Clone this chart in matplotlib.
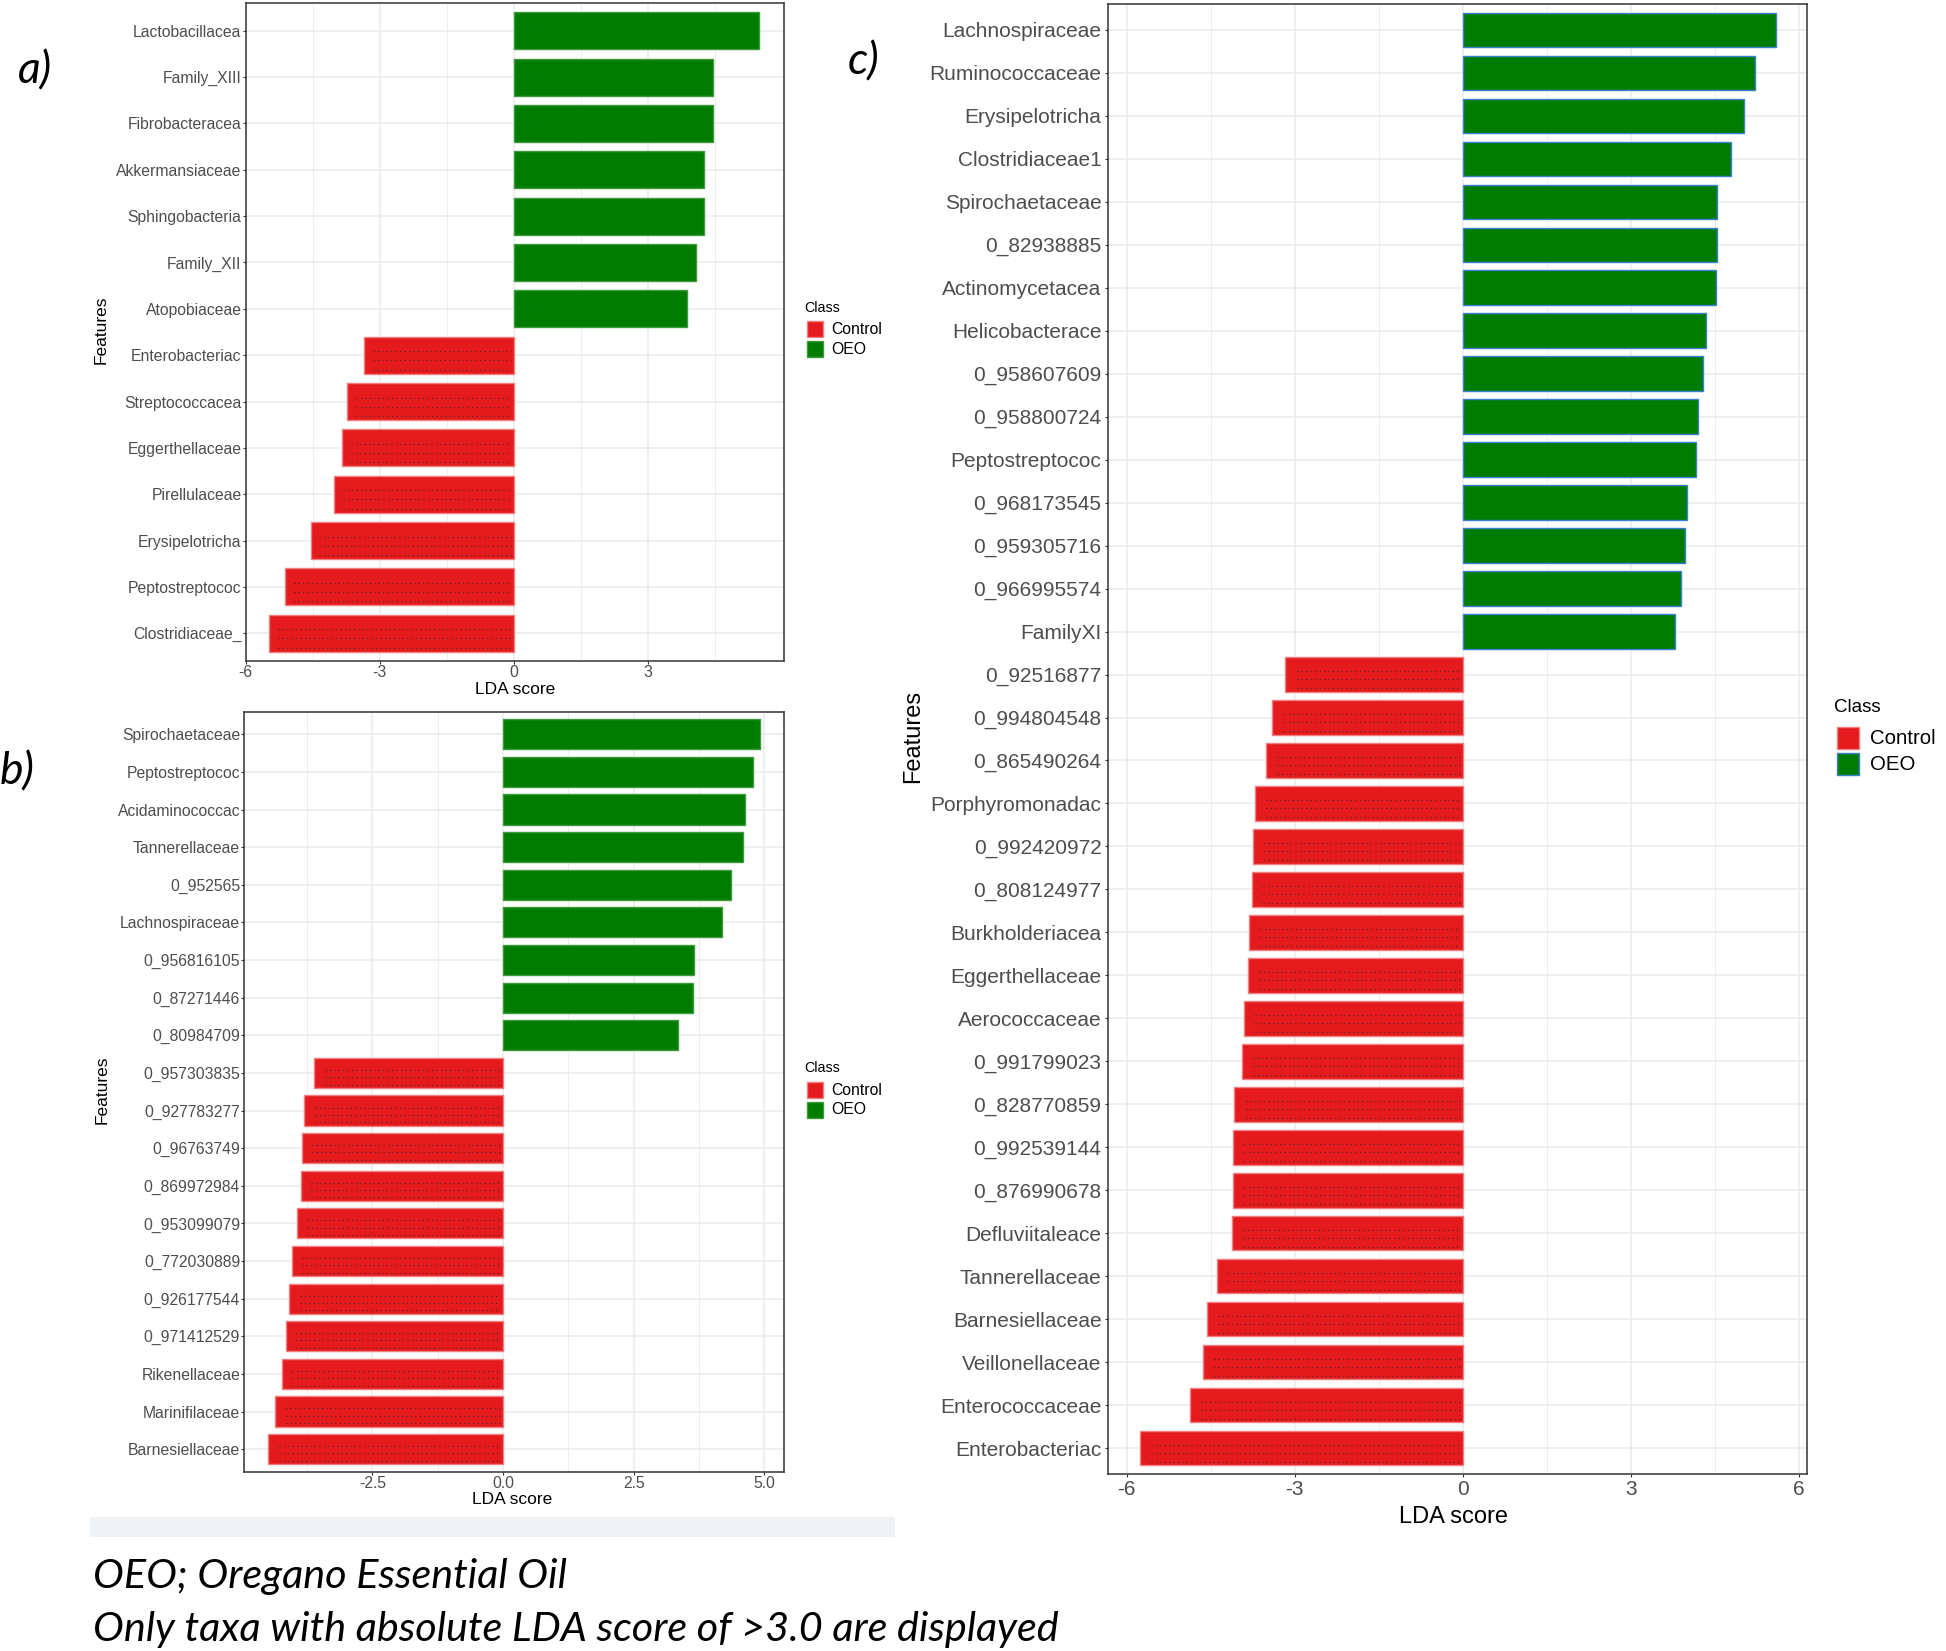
import numpy as np
import matplotlib
matplotlib.use("Agg")
import matplotlib.pyplot as plt
from matplotlib.patches import Rectangle

plt.rcParams['font.family'] = ['Liberation Sans', 'DejaVu Sans']

# LDA scores, listed top to bottom
A_LABELS = ["Lactobacillacea", "Family_XIII", "Fibrobacteracea", "Akkermansiaceae",
            "Sphingobacteria", "Family_XII", "Atopobiaceae", "Enterobacteriac",
            "Streptococcacea", "Eggerthellaceae", "Pirellulaceae", "Erysipelotricha",
            "Peptostreptococ", "Clostridiaceae_"]
A_SCORES = [5.47, 4.46, 4.46, 4.25, 4.25, 4.08, 3.87,
            -3.36, -3.73, -3.85, -4.02, -4.55, -5.12, -5.47]

B_LABELS = ["Spirochaetaceae", "Peptostreptococ", "Acidaminococcac", "Tannerellaceae",
            "0_952565", "Lachnospiraceae", "0_956816105", "0_87271446", "0_80984709",
            "0_957303835", "0_927783277", "0_96763749", "0_869972984", "0_953099079",
            "0_772030889", "0_926177544", "0_971412529", "Rikenellaceae",
            "Marinifilaceae", "Barnesiellaceae"]
B_SCORES = [4.91, 4.78, 4.62, 4.59, 4.36, 4.19, 3.66, 3.63, 3.35,
            -3.61, -3.80, -3.85, -3.87, -3.95, -4.04, -4.09, -4.16, -4.23, -4.36, -4.49]

C_LABELS = ["Lachnospiraceae", "Ruminococcaceae", "Erysipelotricha", "Clostridiaceae1",
            "Spirochaetaceae", "0_82938885", "Actinomycetacea", "Helicobacterace",
            "0_958607609", "0_958800724", "Peptostreptococ", "0_968173545",
            "0_959305716", "0_966995574", "FamilyXI", "0_92516877", "0_994804548",
            "0_865490264", "Porphyromonadac", "0_992420972", "0_808124977",
            "Burkholderiacea", "Eggerthellaceae", "Aerococcaceae", "0_991799023",
            "0_828770859", "0_992539144", "0_876990678", "Defluviitaleace",
            "Tannerellaceae", "Barnesiellaceae", "Veillonellaceae", "Enterococcaceae",
            "Enterobacteriac"]
C_SCORES = [5.59, 5.22, 5.01, 4.79, 4.54, 4.54, 4.51, 4.33, 4.28, 4.20, 4.16, 3.99,
            3.97, 3.90, 3.79, -3.17, -3.40, -3.51, -3.72, -3.75, -3.77, -3.82, -3.84,
            -3.91, -3.94, -4.08, -4.11, -4.11, -4.13, -4.39, -4.57, -4.64, -4.87, -5.77]

CLASSES = ["Control", "OEO"]

GREEN = "#007d00"
RED = "#e41a1c"
RED_EDGE = "#f07f80"
GRID = "#ebebeb"
TICK_TXT = "#4d4d4d"

W, H = 1946, 1651
fig = plt.figure(figsize=(W / 100, H / 100), dpi=100)


def px_axes(x0, y0, x1, y1):
    # pixel box (top-left origin) -> axes
    return fig.add_axes([x0 / W, 1 - y1 / H, (x1 - x0) / W, (y1 - y0) / H])


def draw_panel(ax, labels, scores, xlim, ticks, ticklabels, minor, fs_tick, fs_title,
               green_edge, feat_xy, lda_xy, pad):
    n = len(labels)
    ypos = np.arange(n)[::-1]
    scores = np.array(scores)
    cols = [GREEN if s > 0 else RED for s in scores]
    edges = [green_edge if s > 0 else RED_EDGE for s in scores]
    ax.barh(ypos, scores, height=0.8, color=cols, edgecolor=edges, linewidth=1.0, zorder=3)

    # dotted scan artefacts inside the red bars
    neg = scores < 0
    for off in [0.08, -0.11, -0.31]:
        ax.hlines(ypos[neg] + off, scores[neg] + 0.2, -0.06, colors="#1f2f2f",
                  linewidth=0.8, linestyles=(0, (0.8, 3.2)), zorder=4)

    ax.set_xlim(*xlim)
    ax.set_ylim(-0.6, n - 0.4)
    ax.set_yticks(ypos)
    ax.set_yticklabels(labels)
    ax.set_xticks(ticks)
    ax.set_xticklabels(ticklabels)
    ax.set_xticks(minor, minor=True)
    ax.grid(True, which="major", color=GRID, linewidth=1.1, zorder=0)
    ax.grid(True, which="minor", axis="x", color=GRID, linewidth=0.6, zorder=0)
    ax.set_axisbelow(True)
    ax.tick_params(axis="both", which="major", labelsize=fs_tick, labelcolor=TICK_TXT,
                   color="#333333", length=2.5, width=0.8, pad=pad)
    ax.tick_params(axis="both", which="minor", length=0)
    for sp in ax.spines.values():
        sp.set_color("#333333")
        sp.set_linewidth(1.1)
    ax.set_xlabel("LDA score", fontsize=fs_title)
    ax.set_ylabel("Features", fontsize=fs_title)
    ax.xaxis.set_label_coords(*lda_xy)
    ax.xaxis.label.set_va("center")
    ax.yaxis.set_label_coords(*feat_xy)
    ax.yaxis.label.set_va("center")


def draw_legend(x, y_title, key, key_tops, text_x, fs_title, fs_lab, green_edge):
    fig.text(x / W, 1 - y_title / H, "Class", fontsize=fs_title, va="center", ha="left")
    for name, top in zip(CLASSES, key_tops):
        fc = RED if name == "Control" else GREEN
        ec = RED_EDGE if name == "Control" else green_edge
        fig.patches.append(Rectangle(((x + 3) / W, 1 - (top + key) / H), key / W, key / H,
                                     transform=fig.transFigure, facecolor=fc,
                                     edgecolor=ec, linewidth=1.0))
        fig.text(text_x / W, 1 - (top + key / 2) / H, name, fontsize=fs_lab,
                 va="center", ha="left")


ax_a = px_axes(245.7, 3, 784, 661)
draw_panel(ax_a, A_LABELS, A_SCORES, (-6.0, 6.04), [-6, -3, 0, 3],
           ["-6", "-3", "0", "3"], [-4.5, -1.5, 1.5, 4.5], 11.3, 12.5, "#3f9a3f",
           (-0.268, 0.503), (0.5, -0.044), 0.5)

ax_b = px_axes(244.3, 711.7, 784, 1471.7)
draw_panel(ax_b, B_LABELS, B_SCORES, (-4.95, 5.375), [-2.5, 0, 2.5, 5.0],
           ["-2.5", "0.0", "2.5", "5.0"], [-3.75, -1.25, 1.25, 3.75], 11.3, 12.5, "#3f9a3f",
           (-0.264, 0.502), (0.496, -0.036), 0.5)

ax_c = px_axes(1107.7, 4, 1807, 1474)
draw_panel(ax_c, C_LABELS, C_SCORES, (-6.34, 6.14), [-6, -3, 0, 3, 6],
           ["-6", "-3", "0", "3", "6"], [-4.5, -1.5, 1.5, 4.5], 15, 17, "#3d7fd0",
           (-0.278, 0.502), (0.495, -0.029), 2)

draw_legend(804, 308, 16, [321, 341], 831, 10.3, 11.3, "#3f9a3f")
draw_legend(804, 1068, 16, [1082, 1102], 831, 10.3, 11.3, "#3f9a3f")
draw_legend(1834, 708, 22, [727, 753], 1870, 13.5, 14.7, "#3d7fd0")

# faint band under panel b
fig.patches.append(Rectangle((90 / W, 1 - 1537 / H), 805 / W, 20 / H,
                             transform=fig.transFigure, facecolor="#eef2f4",
                             edgecolor="none"))

cap_font = dict(family=["Lato", "DejaVu Sans"], style="italic", color="black")
fig.text(35 / W, 1 - 71 / H, "a)", fontsize=32, ha="center", va="center", **cap_font)
fig.text(17 / W, 1 - 772 / H, "b)", fontsize=32, ha="center", va="center", **cap_font)
fig.text(864 / W, 1 - 62 / H, "c)", fontsize=32, ha="center", va="center", **cap_font)

fig.text(93 / W, 1 - 1588 / H, "OEO; Oregano Essential Oil", fontsize=29.8,
         ha="left", va="baseline", **cap_font)
fig.text(93 / W, 1 - 1641 / H, "Only taxa with absolute LDA score of >3.0 are displayed",
         fontsize=29.8, ha="left", va="baseline", **cap_font)

fig.savefig("out.png", dpi=100)
